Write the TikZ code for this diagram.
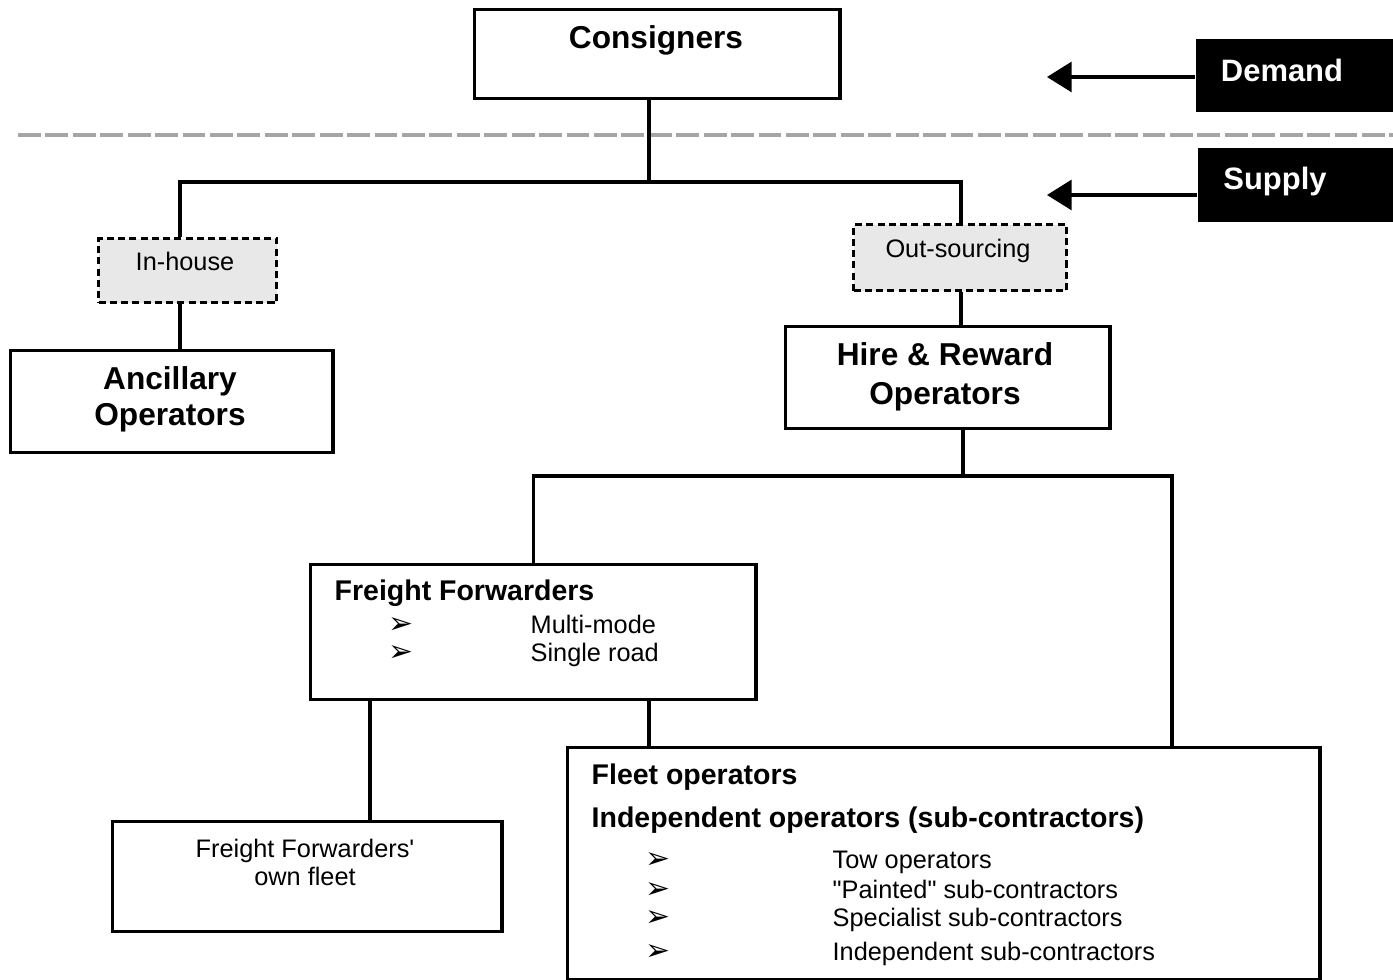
\documentclass[tikz,border=0pt]{standalone}
\usepackage{fontspec}
\setmainfont{Liberation Sans}
\newfontfamily\dingfont{DejaVu Sans}
\usepackage{tikz}
\usetikzlibrary{arrows.meta}
\definecolor{optGray}{RGB}{232,232,232}
\definecolor{splitGray}{RGB}{165,165,165}
\newcommand{\arrbul}{{\fontsize{8.5}{9}\dingfont ➢}}

\begin{document}
\begin{tikzpicture}[x=0.01cm, y=-0.01cm,
    box/.style={draw, line width=0.95pt, anchor=north west, inner sep=0pt},
    optbox/.style={box, dash pattern=on 2pt off 1.2pt, fill=optGray},
    sidebox/.style={fill=black, anchor=north west, inner sep=0pt},
    big/.style={font=\fontsize{9}{11}\selectfont\bfseries, anchor=base},
    mid/.style={font=\fontsize{8.1}{10}\selectfont\bfseries, anchor=base west, inner sep=0pt},
    small/.style={font=\fontsize{7.2}{9}\selectfont, anchor=base},
    item/.style={small, anchor=base west, inner sep=0pt},
    link/.style={line width=0.95pt},
    flow/.style={line width=0.95pt, -{Triangle[length=7pt,width=8.5pt]}}]

  \useasboundingbox (0,0) rectangle (1393,980);

  % demand / supply split
  \draw[splitGray, line width=0.9pt, dash pattern=on 6.5pt off 1.3pt] (18,135) -- (1393,135);

  \node[box, minimum width=3.65cm, minimum height=0.89cm] (cons) at (473,8) {};
  \node[big] (consT) at (656,49) {Consigners};

  \node[sidebox, minimum width=2.1cm, minimum height=0.73cm] (demand) at (1195,38) {};
  \node[big, text=white, font=\fontsize{8.8}{11}\selectfont\bfseries] (demandT) at (1282,82) {Demand};
  \node[sidebox, minimum width=2.05cm, minimum height=0.74cm] (supply) at (1197,147) {};
  \node[big, text=white, font=\fontsize{8.8}{11}\selectfont\bfseries] (supplyT) at (1275,190) {Supply};

  \coordinate (dtip) at (1047,77);
  \coordinate (stip) at (1047,195);
  \draw[flow] (demand.west |- dtip) -- (dtip);
  \draw[flow] (supply.west |- stip) -- (stip);

  \node[optbox, minimum width=1.78cm, minimum height=0.64cm] (inhouse) at (97,237) {};
  \node[small] (inhouseT) at (185,271) {In-house};
  \node[optbox, minimum width=2.13cm, minimum height=0.66cm] (outsrc) at (852,223) {};
  \node[small] (outsrcT) at (958,258) {Out-sourcing};

  \node[box, minimum width=3.22cm, minimum height=1.02cm] (ancil) at (9,349) {};
  \node[big] (ancilA) at (170,390) {Ancillary};
  \node[big] (ancilB) at (170,426) {Operators};

  \node[box, minimum width=3.24cm, minimum height=1.02cm] (hire) at (784,325) {};
  \node[big] (hireA) at (945,366) {Hire \& Reward};
  \node[big] (hireB) at (945,405) {Operators};

  \node[box, minimum width=4.45cm, minimum height=1.35cm] (ff) at (309,563) {};
  \node[mid] (ffT) at (334,601) {Freight Forwarders};
  \node[anchor=base] (ffb1) at (401,634) {\arrbul};
  \node[anchor=base] (ffb2) at (401,662) {\arrbul};
  \node[item] (ffI1) at (530,634) {Multi-mode};
  \node[item] (ffI2) at (530,662) {Single road};

  \node[box, minimum width=3.89cm, minimum height=1.10cm] (ffown) at (111,820) {};
  \node[small] (ffownA) at (305,858) {Freight Forwarders\textquotesingle};
  \node[small] (ffownB) at (305,886) {own fleet};

  \node[box, minimum width=7.52cm, minimum height=2.32cm] (fleet) at (566,746) {};
  \node[mid] (fleetA) at (591,785) {Fleet operators};
  \node[mid] (fleetB) at (591,828) {Independent operators (sub-contractors)};
  \foreach \name/\y/\txt in {f1/869/Tow operators, f2/899/\textquotedbl Painted\textquotedbl{} sub-contractors,
      f3/927/Specialist sub-contractors, f4/961/Independent sub-contractors} {
    \node[anchor=base] (\name b) at (658,\y) {\arrbul};
    \node[item] (\name) at (832,\y) {\txt};
  }

  % tree connectors
  \coordinate (j1) at (649,182);
  \coordinate (j2) at (963,476);
  \coordinate (xi) at (180,0);
  \coordinate (xo) at (961,0);
  \coordinate (xa) at (370,0);
  \coordinate (xb) at (649,0);
  \coordinate (xc) at (1172,0);
  \draw[link] (cons.south -| j1) -- (j1);
  \draw[link] (inhouse.north -| xi) |- (j1) -| (outsrc.north -| xo);
  \draw[link] (inhouse.south -| xi) -- (ancil.north -| xi);
  \draw[link] (outsrc.south -| xo) -- (hire.north -| xo);
  \draw[link] (hire.south -| j2) -- (j2);
  \draw[link] (ff.north) |- (j2) -| (fleet.north -| xc);
  \draw[link] (ff.south -| xa) -- (ffown.north -| xa);
  \draw[link] (ff.south -| xb) -- (fleet.north -| xb);
\end{tikzpicture}
\end{document}
